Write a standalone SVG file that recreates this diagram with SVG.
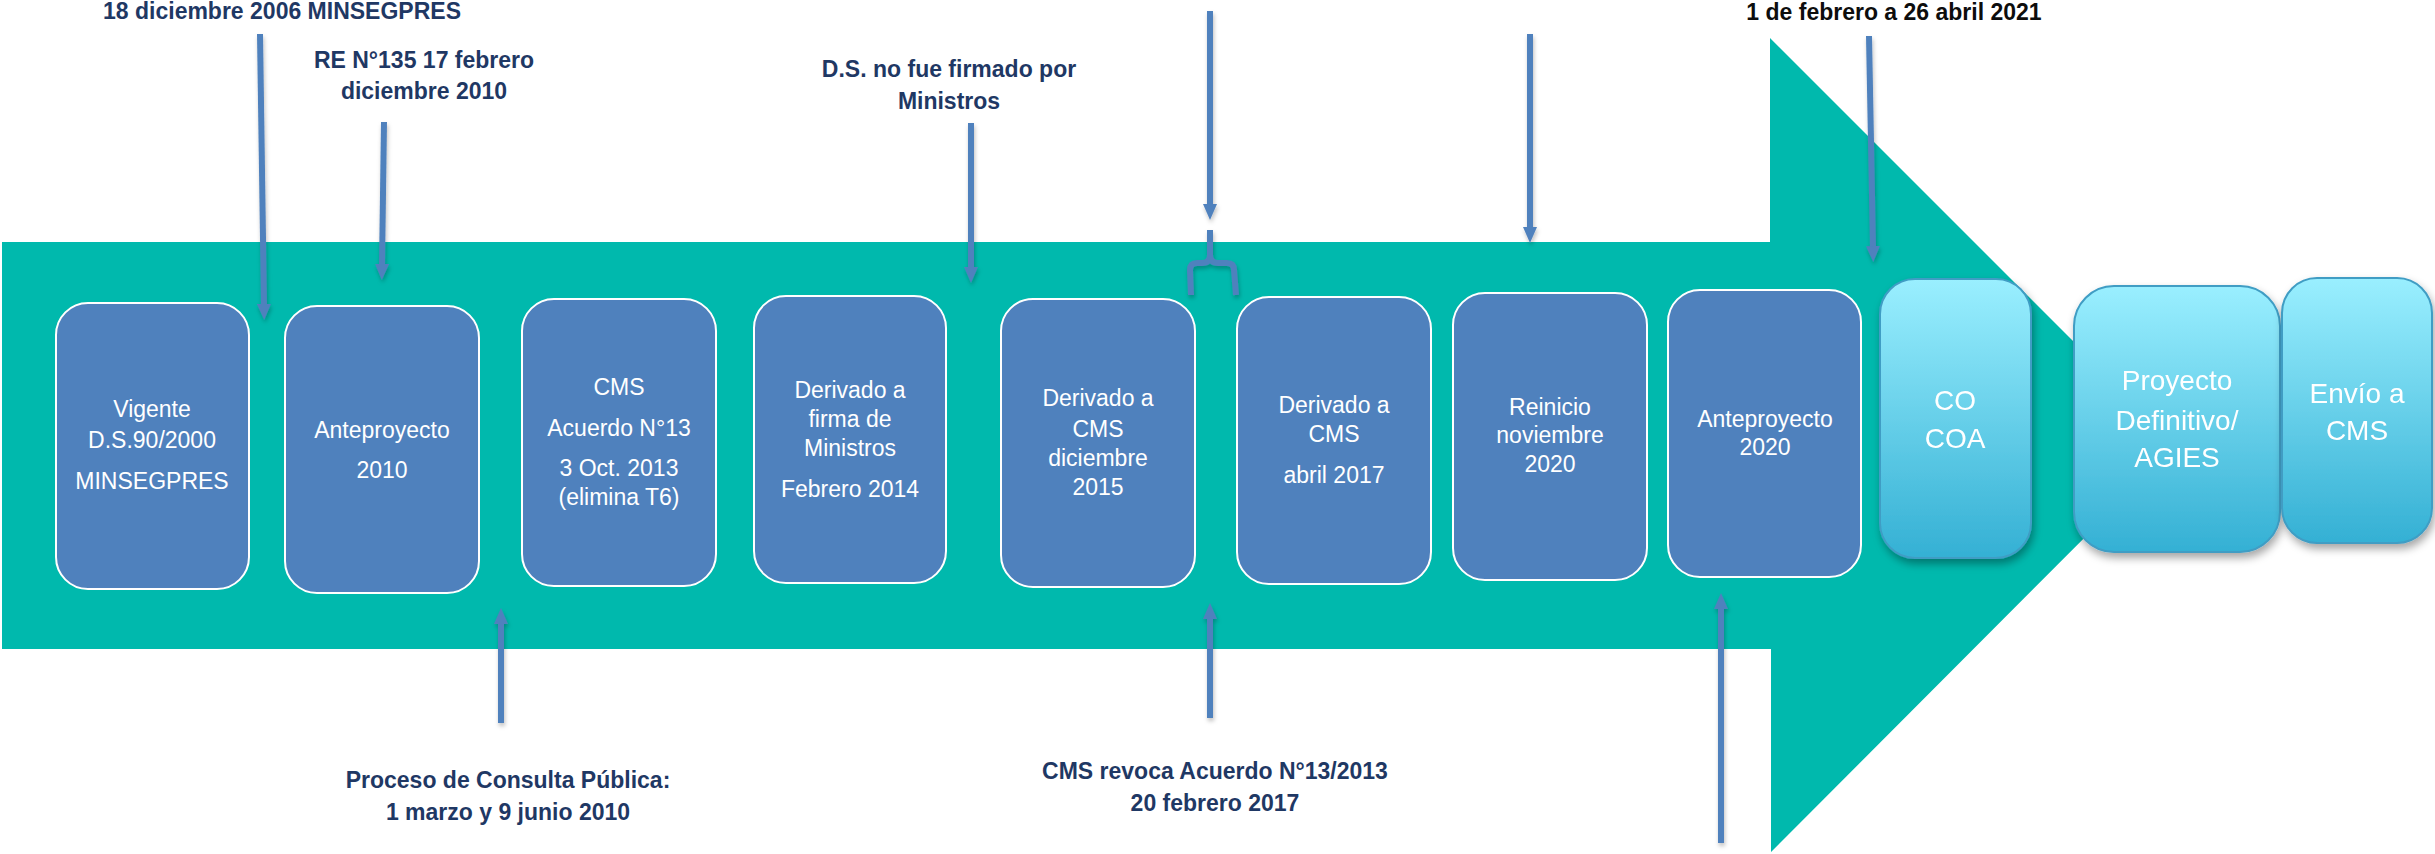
<svg xmlns="http://www.w3.org/2000/svg" width="2435" height="854" viewBox="0 0 2435 854">
<defs>
<linearGradient id="lg" x1="0" y1="0" x2="0" y2="1">
<stop offset="0" stop-color="#9AEFFF"/>
<stop offset="1" stop-color="#34B0D4"/>
</linearGradient>
<filter id="sh" x="-20%" y="-20%" width="140%" height="140%">
<feDropShadow dx="2" dy="5" stdDeviation="4" flood-color="#000" flood-opacity="0.35"/>
</filter>
<filter id="ash" x="-50%" y="-10%" width="200%" height="120%">
<feDropShadow dx="1" dy="3" stdDeviation="2" flood-color="#000" flood-opacity="0.25"/>
</filter>
<marker id="ah" markerUnits="userSpaceOnUse" markerWidth="16" markerHeight="14" viewBox="0 0 16 14" refX="2" refY="7" orient="auto">
<path d="M0,0 L16,7 L0,14 Z" fill="#4F81BD"/>
</marker>
</defs>
<style>
.dn rect{fill:#4F81BD;stroke:#FFFFFF;stroke-width:2}
.ln rect{fill:url(#lg);stroke:#3F9DC4;stroke-width:2}
.ln{filter:url(#sh)}
.nt{font-family:"Liberation Sans",Arial,sans-serif;font-size:23px;fill:#FFFFFF;text-anchor:middle}
.lt{font-family:"Liberation Sans",Arial,sans-serif;font-size:28px;fill:#FFFFFF;text-anchor:middle}
.lb{font-family:"Liberation Sans",Arial,sans-serif;font-size:23px;font-weight:bold;fill:#1F3864;text-anchor:middle}
.cn line,.cn path{stroke:#4F81BD;stroke-width:6;fill:none}
.cn{filter:url(#ash)}
</style>
<polygon id="band" points="2,242 1770,242 1770,38 2177,445 1771,852 1771,649 2,649" fill="#00B9AD"/>
<g id="n1" class="dn"><rect x="56" y="303" width="193" height="286" rx="32"/>
<text class="nt" x="152" y="417">Vigente</text><text class="nt" x="152" y="448">D.S.90/2000</text><text class="nt" x="152" y="489">MINSEGPRES</text></g>
<g id="n2" class="dn"><rect x="285" y="306" width="194" height="287" rx="32"/>
<text class="nt" x="382" y="438">Anteproyecto</text><text class="nt" x="382" y="478">2010</text></g>
<g id="n3" class="dn"><rect x="522" y="299" width="194" height="287" rx="32"/>
<text class="nt" x="619" y="395">CMS</text><text class="nt" x="619" y="436">Acuerdo N°13</text><text class="nt" x="619" y="476">3 Oct. 2013</text><text class="nt" x="619" y="505">(elimina T6)</text></g>
<g id="n4" class="dn"><rect x="754" y="296" width="192" height="287" rx="32"/>
<text class="nt" x="850" y="398">Derivado a</text><text class="nt" x="850" y="427">firma de</text><text class="nt" x="850" y="456">Ministros</text><text class="nt" x="850" y="497">Febrero 2014</text></g>
<g id="n5" class="dn"><rect x="1001" y="299" width="194" height="288" rx="32"/>
<text class="nt" x="1098" y="406">Derivado a</text><text class="nt" x="1098" y="437">CMS</text><text class="nt" x="1098" y="466">diciembre</text><text class="nt" x="1098" y="495">2015</text></g>
<g id="n6" class="dn"><rect x="1237" y="297" width="194" height="287" rx="32"/>
<text class="nt" x="1334" y="413">Derivado a</text><text class="nt" x="1334" y="442">CMS</text><text class="nt" x="1334" y="483">abril 2017</text></g>
<g id="n7" class="dn"><rect x="1453" y="293" width="194" height="287" rx="32"/>
<text class="nt" x="1550" y="415">Reinicio</text><text class="nt" x="1550" y="443">noviembre</text><text class="nt" x="1550" y="472">2020</text></g>
<g id="n8" class="dn"><rect x="1668" y="290" width="193" height="287" rx="32"/>
<text class="nt" x="1765" y="427">Anteproyecto</text><text class="nt" x="1765" y="455">2020</text></g>
<g id="n9" class="ln"><rect x="1880" y="279" width="151" height="279" rx="35"/>
<text class="lt" x="1955" y="410">CO</text><text class="lt" x="1955" y="448">COA</text></g>
<g id="n10" class="ln"><rect x="2074" y="286" width="206" height="266" rx="40"/>
<text class="lt" x="2177" y="390">Proyecto</text><text class="lt" x="2177" y="430">Definitivo/</text><text class="lt" x="2177" y="467">AGIES</text></g>
<g id="n11" class="ln"><rect x="2282" y="278" width="150" height="265" rx="35"/>
<text class="lt" x="2357" y="403">Envío a</text><text class="lt" x="2357" y="440">CMS</text></g>
<g id="connectors" class="cn">
<line x1="260" y1="34" x2="264" y2="306" marker-end="url(#ah)"/>
<line x1="384" y1="122" x2="382" y2="266" marker-end="url(#ah)"/>
<line x1="971" y1="123" x2="971" y2="269" marker-end="url(#ah)"/>
<line x1="1210" y1="11" x2="1210" y2="206" marker-end="url(#ah)"/>
<line x1="1530" y1="34" x2="1530" y2="229" marker-end="url(#ah)"/>
<line x1="1869" y1="36" x2="1873" y2="248" marker-end="url(#ah)"/>
<line x1="501" y1="723" x2="501" y2="622" marker-end="url(#ah)"/>
<line x1="1210" y1="718" x2="1210" y2="617" marker-end="url(#ah)"/>
<line x1="1721" y1="843" x2="1721" y2="607" marker-end="url(#ah)"/>
<path d="M1210,230 L1210,255 Q1210,263 1202,263 L1197,263 Q1190,263 1190,270 L1191,295 M1210,255 Q1210,263 1218,263 L1227,263 Q1234,263 1234,270 L1236,295"/>
</g>
<g id="labels">
<text class="lb" x="282" y="19">18 diciembre 2006 MINSEGPRES</text>
<text class="lb" x="424" y="68">RE N°135 17 febrero</text>
<text class="lb" x="424" y="99">diciembre 2010</text>
<text class="lb" x="949" y="77">D.S. no fue firmado por</text>
<text class="lb" x="949" y="109">Ministros</text>
<text class="lb" x="1894" y="20" style="fill:#0D0D0D">1 de febrero a 26 abril 2021</text>
<text class="lb" x="508" y="788">Proceso de Consulta Pública:</text>
<text class="lb" x="508" y="820">1 marzo y 9 junio 2010</text>
<text class="lb" x="1215" y="779">CMS revoca Acuerdo N°13/2013</text>
<text class="lb" x="1215" y="811">20 febrero 2017</text>
</g>
</svg>
